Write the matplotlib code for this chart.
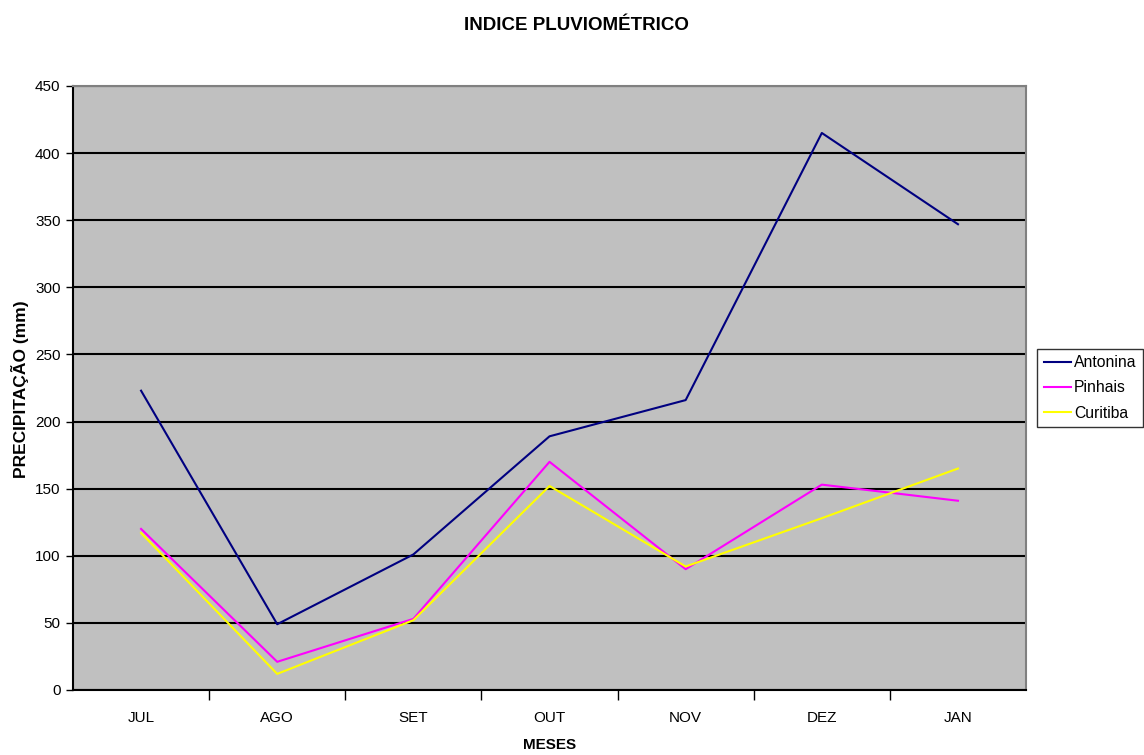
import matplotlib
matplotlib.use('Agg')
from matplotlib import pyplot as plt

# monthly rainfall (mm) per station
months = ['JUL', 'AGO', 'SET', 'OUT', 'NOV', 'DEZ', 'JAN']
antonina = [223, 49, 101, 189, 216, 415, 347]
pinhais = [120, 21, 53, 170, 90, 153, 141]
curitiba = [117, 12, 52, 152, 92, 128, 165]

plt.rcParams['font.family'] = ['Liberation Sans', 'DejaVu Sans']

fig = plt.figure(figsize=(11.44, 7.55), dpi=100)
ax = fig.add_axes([0.0638, 0.0861, 0.8331, 0.8])
ax.set_facecolor('#c0c0c0')

x = range(len(months))
ax.plot(x, antonina, color='#000080', lw=1.5, label='Antonina')
ax.plot(x, pinhais, color='#ff00ff', lw=1.5, label='Pinhais')
ax.plot(x, curitiba, color='#ffff00', lw=1.5, label='Curitiba')

ax.set_xlim(-0.5, len(months) - 0.5)
ax.set_ylim(0, 450)
ax.set_yticks(range(0, 451, 50))
ax.yaxis.grid(True, color='black', lw=1.5)
ax.set_axisbelow(True)

# category ticks sit between months, labels centred under each month
ax.set_xticks([i + 0.5 for i in range(len(months) - 1)])
ax.set_xticklabels([])
ax.set_xticks(list(x), minor=True)
ax.set_xticklabels(months, minor=True)
ax.tick_params(axis='x', which='minor', length=0, pad=15, labelsize=11)
ax.tick_params(axis='x', which='major', length=7, width=1, direction='out')
ax.tick_params(axis='y', length=5, width=1, labelsize=11, pad=4)

for side in ('left', 'bottom'):
    ax.spines[side].set_color('black')
    ax.spines[side].set_linewidth(1.5)
for side in ('top', 'right'):
    ax.spines[side].set_color('#808080')
    ax.spines[side].set_linewidth(1.5)

fig.text(0.5035, 0.966, 'INDICE PLUVIOMÉTRICO', ha='center', va='center',
         fontsize=13.5, fontweight='bold')
fig.text(0.48, 0.013, 'MESES', ha='center', va='center',
         fontsize=11, fontweight='bold')
fig.text(0.0175, 0.485, 'PRECIPITAÇÃO (mm)', ha='center', va='center',
         rotation=90, fontsize=12.5, fontweight='bold')

leg = ax.legend(loc='center left', bbox_to_anchor=(1.0115, 0.5), fontsize=11.3,
                frameon=True, fancybox=False, edgecolor='black',
                borderpad=0.42, labelspacing=0.64, handlelength=1.75,
                handletextpad=0.2, borderaxespad=0)
leg.get_frame().set_linewidth(1)

fig.savefig('out.png', dpi=100)
